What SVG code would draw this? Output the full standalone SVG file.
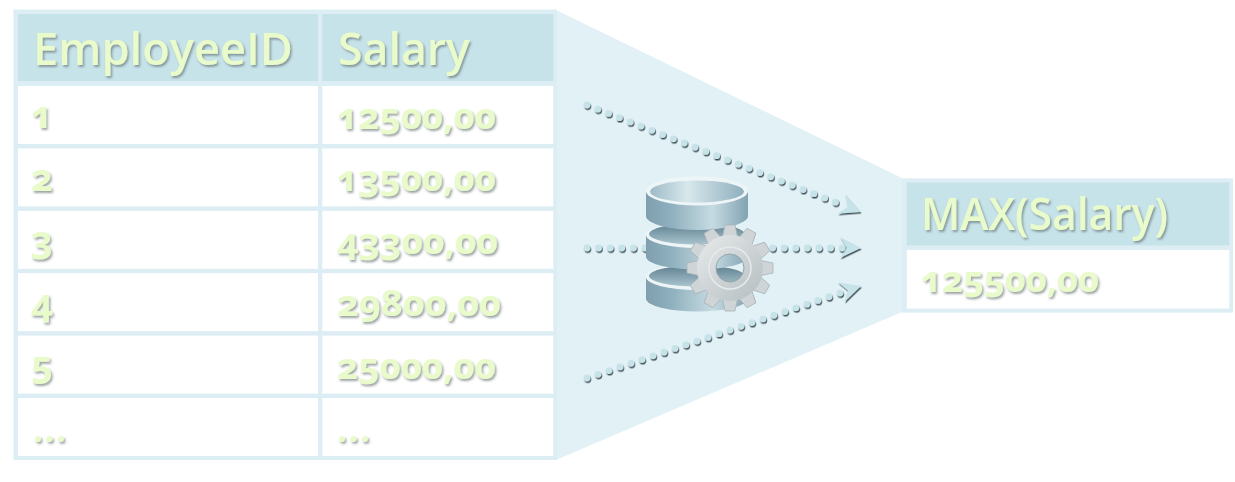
<svg xmlns="http://www.w3.org/2000/svg" xmlns:xlink="http://www.w3.org/1999/xlink" width="1235" height="482" viewBox="0 0 1235 482">
<style>
.frame{fill:#dcedf3}
.head{fill:#c7e3ea}
.cell{fill:#fff}
text{font-family:"Open Sans","Noto Sans","Liberation Sans",sans-serif;fill:#e9facb;font-variant-numeric:oldstyle-nums;font-feature-settings:"onum" 1;filter:url(#ts)}
.h{font-size:45px;font-weight:600}
.v{font-size:35px;font-weight:700}
.d{font-size:38px;font-weight:700}
.dots{fill:none;stroke:#c7e3ea;stroke-width:6.8;stroke-linecap:round;stroke-dasharray:0 11.6}
</style>
<defs>
<filter id="ts" x="-10%" y="-20%" width="120%" height="150%"><feDropShadow dx="1.5" dy="2" stdDeviation="1" flood-color="#4d5a5a" flood-opacity=".55"/></filter>
<filter id="ds" filterUnits="userSpaceOnUse" x="570" y="90" width="310" height="310"><feDropShadow dx=".8" dy="1.5" stdDeviation=".25" flood-color="#3f5057"/></filter>
<marker id="arr" markerUnits="userSpaceOnUse" markerWidth="26" markerHeight="26" refX="3" refY="12" orient="auto" overflow="visible"><path d="M0,1 L21,12 L0,22 L7,12Z" fill="#c7e3ea"/></marker>
<linearGradient id="side" x1="0" x2="1" y1="0" y2="0"><stop offset="0" stop-color="#7f9fae"/><stop offset=".25" stop-color="#8fb0be"/><stop offset=".65" stop-color="#c6dbe2"/><stop offset="1" stop-color="#82a3b2"/></linearGradient>
<linearGradient id="well" x1="0" x2="1" y1="0" y2="0"><stop offset="0" stop-color="#9dbac6"/><stop offset=".4" stop-color="#d8e8ec"/><stop offset="1" stop-color="#8fafbd"/></linearGradient>
<linearGradient id="well2" x1="0" x2="0" y1="0" y2="1"><stop offset="0" stop-color="#5f8090"/><stop offset="1" stop-color="#a8c4ce"/></linearGradient>
<linearGradient id="steel" x1="0" x2="1" y1="0" y2="1"><stop offset="0" stop-color="#e0e4e5"/><stop offset="1" stop-color="#bcc4c7"/></linearGradient>
<path id="tooth" d="M-7.5,-31 L-5,-43 H5 L7.5,-31Z" fill="#cfd5d7" stroke="#aab3b7" stroke-width=".8"/>
<g id="disc"><path d="M646,0 v21.5 a51,13 0 0 0 102,0 v-21.5z" fill="url(#side)"/><ellipse cx="697" cy="0" rx="51" ry="13" fill="#eef5f7"/><ellipse cx="697" cy="-1" rx="48" ry="10.5" fill="url(#well2)"/></g>
</defs>

<g id="funnel"><path d="M556,10 L902,178 V312 L556,460Z" fill="#e2f1f5"/></g>

<g id="connectors" filter="url(#ds)">
<path class="dots" d="M587,105 L844,205.5" marker-end="url(#arr)"/>
<path class="dots" d="M587,248 L843,248" marker-end="url(#arr)"/>
<path class="dots" d="M587,378 L844,291.7" marker-end="url(#arr)"/>
</g>

<g id="database">
<use xlink:href="#disc" href="#disc" y="277"/>
<use xlink:href="#disc" href="#disc" y="235"/>
<path d="M646,191 v25 a51,14 0 0 0 102,0 v-25z" fill="url(#side)"/>
<ellipse cx="697" cy="191" rx="51" ry="14.5" fill="#eef5f7"/>
<ellipse cx="697" cy="191.5" rx="47" ry="11" fill="url(#well)"/>
</g>

<g id="gear">
<use xlink:href="#tooth" href="#tooth" transform="translate(730,268)"/>
<use xlink:href="#tooth" href="#tooth" transform="translate(730,268) rotate(30)"/>
<use xlink:href="#tooth" href="#tooth" transform="translate(730,268) rotate(60)"/>
<use xlink:href="#tooth" href="#tooth" transform="translate(730,268) rotate(90)"/>
<use xlink:href="#tooth" href="#tooth" transform="translate(730,268) rotate(120)"/>
<use xlink:href="#tooth" href="#tooth" transform="translate(730,268) rotate(150)"/>
<use xlink:href="#tooth" href="#tooth" transform="translate(730,268) rotate(180)"/>
<use xlink:href="#tooth" href="#tooth" transform="translate(730,268) rotate(210)"/>
<use xlink:href="#tooth" href="#tooth" transform="translate(730,268) rotate(240)"/>
<use xlink:href="#tooth" href="#tooth" transform="translate(730,268) rotate(270)"/>
<use xlink:href="#tooth" href="#tooth" transform="translate(730,268) rotate(300)"/>
<use xlink:href="#tooth" href="#tooth" transform="translate(730,268) rotate(330)"/>
<circle cx="730" cy="268" r="23.5" fill="none" stroke="url(#steel)" stroke-width="19"/>
<circle cx="730" cy="268" r="21" fill="none" stroke="#e6eaeb" stroke-width="1.5"/>
<circle cx="730" cy="268" r="14" fill="none" stroke="#98a3a8" stroke-width="1"/>
</g>

<g id="source-table">
<rect class="frame" x="13.5" y="9.5" width="543.5" height="450.5"/>
<rect class="head" x="18" y="14" width="300" height="67"/>
<rect class="head" x="322.3" y="14" width="231" height="67"/>
<rect class="cell" x="18" y="86" width="300" height="58"/><rect class="cell" x="322.3" y="86" width="231" height="58"/>
<rect class="cell" x="18" y="148.4" width="300" height="58"/><rect class="cell" x="322.3" y="148.4" width="231" height="58"/>
<rect class="cell" x="18" y="210.8" width="300" height="58"/><rect class="cell" x="322.3" y="210.8" width="231" height="58"/>
<rect class="cell" x="18" y="273.2" width="300" height="58"/><rect class="cell" x="322.3" y="273.2" width="231" height="58"/>
<rect class="cell" x="18" y="335.6" width="300" height="58"/><rect class="cell" x="322.3" y="335.6" width="231" height="58"/>
<rect class="cell" x="18" y="398" width="300" height="58"/><rect class="cell" x="322.3" y="398" width="231" height="58"/>
<text class="h" x="33" y="65" textLength="260" lengthAdjust="spacingAndGlyphs">EmployeeID</text>
<text class="h" x="338" y="65" textLength="132" lengthAdjust="spacingAndGlyphs">Salary</text>
<text class="d" x="31" y="128">1</text><text class="v" x="337" y="129" textLength="159" lengthAdjust="spacingAndGlyphs">12500,00</text>
<text class="d" x="31" y="191">2</text><text class="v" x="337" y="191" textLength="159" lengthAdjust="spacingAndGlyphs">13500,00</text>
<text class="d" x="31" y="253">3</text><text class="v" x="337" y="254" textLength="161" lengthAdjust="spacingAndGlyphs">43300,00</text>
<text class="d" x="31" y="316">4</text><text class="v" x="337" y="316" textLength="164" lengthAdjust="spacingAndGlyphs">29800,00</text>
<text class="d" x="31" y="378">5</text><text class="v" x="337" y="379" textLength="159" lengthAdjust="spacingAndGlyphs">25000,00</text>
<text class="v" x="33" y="442" textLength="33" lengthAdjust="spacing">...</text><text class="v" x="337" y="442" textLength="33" lengthAdjust="spacing">...</text>
</g>

<g id="result-table">
<rect class="frame" x="902" y="178.4" width="331" height="134.2"/>
<rect class="head" x="906.8" y="182.5" width="322.5" height="63"/>
<rect class="cell" x="906.8" y="250" width="322.5" height="58.6"/>
<text class="h" x="921" y="230" textLength="247" lengthAdjust="spacingAndGlyphs">MAX(Salary)</text>
<text class="v" x="921" y="292" textLength="178" lengthAdjust="spacingAndGlyphs">125500,00</text>
</g>
</svg>
